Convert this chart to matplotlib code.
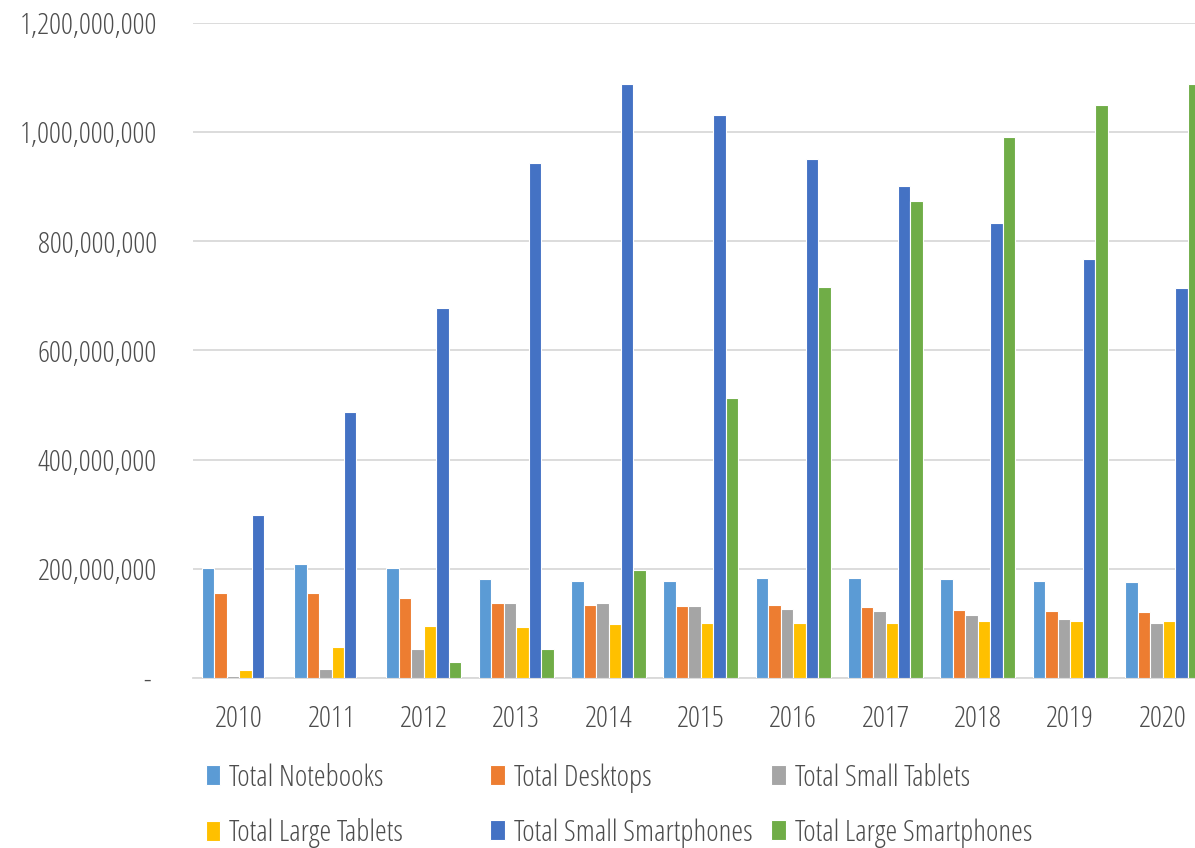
import numpy as np
import matplotlib
matplotlib.use("Agg")
import matplotlib.pyplot as plt
from matplotlib.ticker import FuncFormatter

plt.rcParams['font.family'] = ['Open Sans', 'DejaVu Sans']
plt.rcParams['font.stretch'] = 'condensed'
plt.rcParams['font.weight'] = 300

# shipments per year, by device class
years = ['2010', '2011', '2012', '2013', '2014', '2015', '2016', '2017', '2018', '2019', '2020']
notebooks = [202e6, 209e6, 202e6, 181e6, 178e6, 178e6, 183e6, 183e6, 181e6, 178e6, 176e6]
desktops = [155e6, 155e6, 146e6, 137e6, 134e6, 131e6, 134e6, 130e6, 124e6, 122e6, 120e6]
small_tablets = [4e6, 17e6, 54e6, 137e6, 137e6, 131e6, 127e6, 122e6, 115e6, 108e6, 101e6]
large_tablets = [15e6, 56e6, 96e6, 94e6, 98e6, 101e6, 101e6, 101e6, 104e6, 104e6, 104e6]
small_smartphones = [299e6, 487e6, 678e6, 944e6, 1088e6, 1031e6, 951e6, 901e6, 834e6, 768e6, 714e6]
large_smartphones = [0, 0, 29e6, 54e6, 197e6, 513e6, 716e6, 874e6, 991e6, 1050e6, 1088e6]

series = [
    ('Total Notebooks', notebooks, '#5B9BD5'),
    ('Total Desktops', desktops, '#ED7D31'),
    ('Total Small Tablets', small_tablets, '#A5A5A5'),
    ('Total Large Tablets', large_tablets, '#FFC000'),
    ('Total Small Smartphones', small_smartphones, '#4472C4'),
    ('Total Large Smartphones', large_smartphones, '#70AD47'),
]

txt = '#4D4D4D'
fs = 21.5

fig = plt.figure(figsize=(11.95, 8.48), dpi=100)
ax = fig.add_axes([0.1615, 0.2005, 0.850, 0.7724])

x = np.arange(len(years))
w = 0.135
handles = []
for i, (name, vals, col) in enumerate(series):
    b = ax.bar(x + (i - 2.5) * w, vals, w, color=col, edgecolor='white',
               linewidth=0.8, label=name, zorder=3)
    handles.append(b)

ax.set_xlim(-0.5, len(years) - 0.5)
ax.set_ylim(0, 1.2e9)
ax.set_yticks(np.arange(0, 1.2e9 + 1, 2e8))
ax.yaxis.set_major_formatter(FuncFormatter(lambda v, p: '- ' if v == 0 else f'{v:,.0f}'))
ax.set_xticks(x)
ax.set_xticklabels(years)
ax.grid(axis='y', color='#D9D9D9', linewidth=1.3, zorder=0)
for s in ['top', 'right', 'left']:
    ax.spines[s].set_visible(False)
ax.spines['bottom'].set_color('#D9D9D9')
ax.spines['bottom'].set_linewidth(1.3)
ax.tick_params(axis='both', length=0, labelsize=fs, labelcolor=txt)
ax.tick_params(axis='y', pad=26)
ax.tick_params(axis='x', pad=19)

# legend laid out in three fixed-width columns
col_x = [0.172, 0.410, 0.645]
for c in range(3):
    fig.legend([handles[c], handles[c + 3]], [series[c][0], series[c + 3][0]],
               loc='upper left', bbox_to_anchor=(col_x[c], 0.100), frameon=False,
               fontsize=fs, labelcolor=txt, handlelength=0.5, handleheight=0.65,
               handletextpad=0.3, labelspacing=0.85, borderaxespad=0, borderpad=0)

fig.savefig('out.png', dpi=100)
